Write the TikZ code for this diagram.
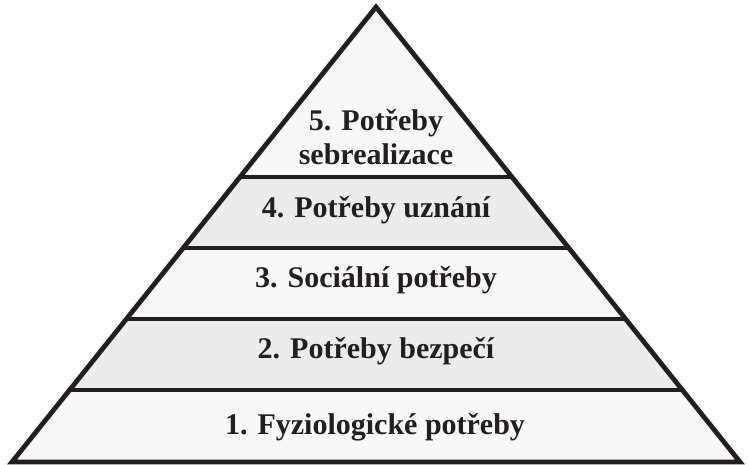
\documentclass[tikz,border=0pt]{standalone}
\usepackage{fontspec}
\setmainfont{Liberation Serif}
\definecolor{edge}{HTML}{231F20}
\definecolor{lightband}{HTML}{F8F8F8}
\definecolor{grayband}{HTML}{ECECEC}
\begin{document}
\begin{tikzpicture}[x=1pt,y=-1pt,
  outline/.style={draw=edge,line width=4.8pt,line join=miter},
  divider/.style={draw=edge,line width=4.3pt},
  label/.style={font=\fontsize{30}{34}\selectfont\bfseries,text=edge,anchor=base,inner sep=0pt}]
\useasboundingbox (0,0) rectangle (748,465);
% key coordinates
\coordinate (A) at (376,7);
\coordinate (BL) at (12,462);
\coordinate (BR) at (740,462);
\coordinate (d4l) at (240,177); \coordinate (d4r) at (512,177);
\coordinate (d3l) at (183.2,248); \coordinate (d3r) at (568.8,248);
\coordinate (d2l) at (126.4,319); \coordinate (d2r) at (625.6,319);
\coordinate (d1l) at (69.6,390); \coordinate (d1r) at (682.4,390);
% bands
\fill[lightband] (A) -- (d4l) -- (d4r) -- cycle;
\fill[grayband] (d4l) -- (d3l) -- (d3r) -- (d4r) -- cycle;
\fill[lightband] (d3l) -- (d2l) -- (d2r) -- (d3r) -- cycle;
\fill[grayband] (d2l) -- (d1l) -- (d1r) -- (d2r) -- cycle;
\fill[lightband] (d1l) -- (BL) -- (BR) -- (d1r) -- cycle;
% dividers
\draw[divider] (d4l) -- (d4r);
\draw[divider] (d3l) -- (d3r);
\draw[divider] (d2l) -- (d2r);
\draw[divider] (d1l) -- (d1r);
% outline
\draw[outline] (A) -- (BL) -- (BR) -- cycle;
% labels
\node[label] (l5a) at (376,131) {5. Potřeby};
\node[label] (l5b) at (376,165) {sebrealizace};
\node[label] (l4) at (376,218) {4. Potřeby uznání};
\node[label] (l3) at (376,288) {3. Sociální potřeby};
\node[label] (l2) at (376,359) {2. Potřeby bezpečí};
\node[label] (l1) at (375,435) {1. Fyziologické potřeby};
\end{tikzpicture}
\end{document}
